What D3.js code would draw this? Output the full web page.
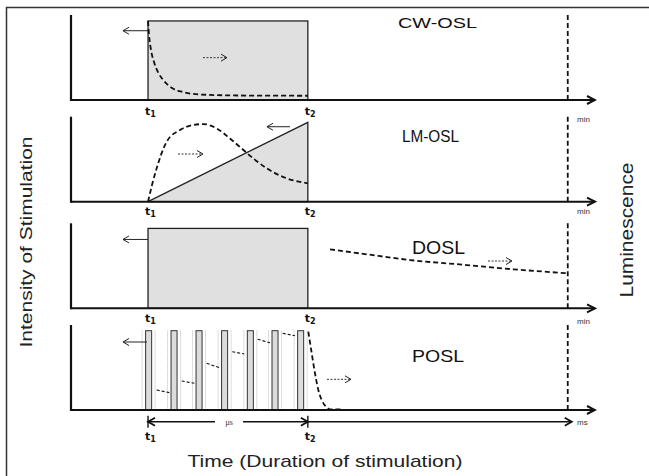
<!DOCTYPE html>
<html>
<head>
<meta charset="utf-8">
<script src="https://cdn.jsdelivr.net/npm/d3@7"></script>
<style>
  body { margin: 0; background: #fff; }
  svg { display: block; }
</style>
</head>
<body>
<svg id="chart"></svg>
<script>
// ---- data (time in arbitrary units, luminescence / intensity as fraction of full scale) ----
const panelNames = ['CW-OSL', 'LM-OSL', 'DOSL', 'POSL'];
const unitLabels = ['min', 'min', 'min', 'ms'];
const tStart = 14.7;   // t1
const tStop = 45.2;    // t2
const tEnd = 94.8;     // end of measurement (dashed line)
const stimLevel = [0.93, 0.934, 0.94, 0.933];

// CW-OSL decay
const cwCurve = [
    [14.7, 0.93], [14.89, 0.765], [15.27, 0.588], [15.84, 0.447], [16.6, 0.329],
    [17.75, 0.224], [19.27, 0.141], [21.37, 0.094], [24.62, 0.065], [32.25, 0.053], [45.2, 0.05]
];
// LM-OSL peak
const lmCurve = [
    [14.7, 0], [15.46, 0.196], [16.35, 0.393], [18.26, 0.706], [20.8, 0.844], [23.34, 0.902],
    [25.25, 0.913], [27.8, 0.862], [30.34, 0.744], [32.57, 0.626], [34.79, 0.509],
    [37.34, 0.393], [41.16, 0.275], [45.2, 0.216]
];
// DOSL delayed signal
const doslCurve = [
    [49.43, 0.694], [56.43, 0.635], [64.69, 0.568], [75.51, 0.509], [84.41, 0.459], [94.8, 0.412]
];
// POSL pulses (start times), pulse width
const pulseStarts = [14.24, 19.09, 23.86, 28.74, 33.65, 38.36, 43.25];
const pulseWidth = 1.15;
// POSL off-time luminescence segments [t0, l0, t1, l1]
const poslOffSegments = [
    [16.35, 0.235, 18.76, 0.204],
    [21.13, 0.341, 23.53, 0.314],
    [25.9, 0.549, 28.3, 0.498],
    [30.78, 0.686, 33.07, 0.659],
    [35.63, 0.832, 37.98, 0.792],
    [40.4, 0.902, 42.75, 0.874]
];
const poslTail = [
    [45.29, 0.921], [45.94, 0.667], [46.56, 0.432], [47.2, 0.235], [47.84, 0.118],
    [48.8, 0.032], [49.43, 0.008], [51.66, 0.008]
];
// stimulation arrows (solid, pointing left) [tFrom, tTo, level]
const stimArrows = [[14.7, 9.92, 0.815], [41.79, 37.4, 0.882], [14.7, 9.92, 0.81], [14.5, 9.92, 0.80]];
// luminescence arrows (dashed, pointing right) [tFrom, tTo, level]
const lumArrows = [[25.19, 29.77, 0.498], [20.42, 25.19, 0.561], [79.58, 84.16, 0.556], [48.85, 53.44, 0.361]];

// ---- layout ----
const width = 649, height = 476;
const baselines = [100, 201.7, 308.3, 410];
const panelH = 85;
const titlePos = [
    {x: 398, y: 28, size: 15, len: 79},
    {x: 402, y: 142, size: 16, len: 57},
    {x: 412, y: 254, size: 17.5, len: 53},
    {x: 412, y: 362, size: 17, len: 52}
];
const unitY = [122, 214, 324];
const tLabelY = [115, 215, 322];
const ink = '#111';
const fillGrey = '#e0e0e0';

const svg = d3.select('#chart')
    .attr('width', width)
    .attr('height', height);

const x = d3.scaleLinear().domain([0, 100]).range([71, 595]);

// markers
const defs = svg.append('defs');
defs.append('marker')
    .attr('id', 'axisArrow')
    .attr('markerUnits', 'userSpaceOnUse')
    .attr('markerWidth', 12).attr('markerHeight', 12)
    .attr('viewBox', '0 0 12 12')
    .attr('refX', 10).attr('refY', 6)
    .attr('orient', 'auto')
    .append('path')
    .attr('d', 'M2,2 L10,6 L2,10')
    .attr('fill', 'none')
    .attr('stroke', ink)
    .attr('stroke-width', 2);
defs.append('marker')
    .attr('id', 'thinArrow')
    .attr('markerUnits', 'userSpaceOnUse')
    .attr('markerWidth', 10).attr('markerHeight', 10)
    .attr('viewBox', '0 0 10 10')
    .attr('refX', 8).attr('refY', 5)
    .attr('orient', 'auto')
    .append('path')
    .attr('d', 'M2,1.5 L8,5 L2,8.5')
    .attr('fill', 'none')
    .attr('stroke', '#222')
    .attr('stroke-width', 1);
defs.append('marker')
    .attr('id', 'boldArrow')
    .attr('markerUnits', 'userSpaceOnUse')
    .attr('markerWidth', 12).attr('markerHeight', 12)
    .attr('viewBox', '0 0 12 12')
    .attr('refX', 10).attr('refY', 6)
    .attr('orient', 'auto')
    .append('path')
    .attr('d', 'M3,2 L10,6 L3,10')
    .attr('fill', 'none')
    .attr('stroke', ink)
    .attr('stroke-width', 1.8);

// frame
svg.append('path')
    .attr('d', `M6.5,${height} L6.5,7.5 L${width},7.5`)
    .attr('fill', 'none')
    .attr('stroke', '#333')
    .attr('stroke-width', 1.5);

panelNames.forEach((name, i) => {
    const base = baselines[i];
    const y = d3.scaleLinear().domain([0, 1]).range([base, base - panelH]);
    const g = svg.append('g').attr('class', 'panel');

    const line = d3.line()
        .x(d => x(d[0]))
        .y(d => y(d[1]))
        .curve(d3.curveMonotoneX);

    // stimulation shape
    if (i === 0 || i === 2) {
        g.append('rect')
            .attr('x', x(tStart))
            .attr('y', y(stimLevel[i]))
            .attr('width', x(tStop) - x(tStart))
            .attr('height', base - y(stimLevel[i]))
            .attr('fill', fillGrey)
            .attr('stroke', '#222')
            .attr('stroke-width', 1.3);
    } else if (i === 1) {
        g.append('path')
            .attr('d', `M${x(tStart)},${y(0)} L${x(tStop)},${y(stimLevel[i])} L${x(tStop)},${y(0)} Z`)
            .attr('fill', fillGrey)
            .attr('stroke', '#222')
            .attr('stroke-width', 1.3);
    } else {
        pulseStarts.forEach(p => {
            const x0 = x(p), x1 = x(p + pulseWidth);
            g.append('path')
                .attr('d', `M${x0 - 3.5},${y(stimLevel[i])} L${x0 - 3.5},${base} M${x1 + 3.5},${y(stimLevel[i])} L${x1 + 3.5},${base}`)
                .attr('stroke', '#aaa')
                .attr('stroke-width', 0.8)
                .attr('stroke-dasharray', '1,1');
            g.append('rect')
                .attr('x', x0)
                .attr('y', y(stimLevel[i]))
                .attr('width', x1 - x0)
                .attr('height', base - y(stimLevel[i]))
                .attr('fill', '#dcdcdc')
                .attr('stroke', '#333')
                .attr('stroke-width', 1);
        });
    }

    // luminescence curves
    const curves = i === 0 ? [cwCurve] : i === 1 ? [lmCurve] : i === 2 ? [doslCurve] : [poslTail];
    curves.forEach(c => {
        g.append('path')
            .attr('d', line(c))
            .attr('fill', 'none')
            .attr('stroke', ink)
            .attr('stroke-width', 1.8)
            .attr('stroke-dasharray', '5,3');
    });
    if (i === 3) {
        poslOffSegments.forEach(s => {
            g.append('line')
                .attr('x1', x(s[0])).attr('y1', y(s[1]))
                .attr('x2', x(s[2])).attr('y2', y(s[3]))
                .attr('stroke', ink)
                .attr('stroke-width', 1.1)
                .attr('stroke-dasharray', '3,2');
        });
    }

    // axes
    g.append('line')
        .attr('x1', x(0)).attr('y1', base - panelH)
        .attr('x2', x(0)).attr('y2', base + 1)
        .attr('stroke', ink)
        .attr('stroke-width', 2.2);
    g.append('line')
        .attr('x1', x(0)).attr('y1', base)
        .attr('x2', x(100)).attr('y2', base)
        .attr('stroke', ink)
        .attr('stroke-width', 2)
        .attr('marker-end', 'url(#axisArrow)');

    // end-of-measurement dashed line
    g.append('line')
        .attr('x1', x(tEnd)).attr('y1', base - panelH)
        .attr('x2', x(tEnd)).attr('y2', base)
        .attr('stroke', ink)
        .attr('stroke-width', 1.8)
        .attr('stroke-dasharray', '5,3');

    // arrows
    const sa = stimArrows[i];
    g.append('line')
        .attr('x1', x(sa[0])).attr('y1', y(sa[2]))
        .attr('x2', x(sa[1])).attr('y2', y(sa[2]))
        .attr('stroke', '#222')
        .attr('stroke-width', 1)
        .attr('marker-end', 'url(#thinArrow)');
    const la = lumArrows[i];
    g.append('line')
        .attr('x1', x(la[0])).attr('y1', y(la[2]))
        .attr('x2', x(la[1])).attr('y2', y(la[2]))
        .attr('stroke', '#333')
        .attr('stroke-width', 1)
        .attr('stroke-dasharray', '2,1.5')
        .attr('marker-end', 'url(#thinArrow)');

    // title
    const tp = titlePos[i];
    g.append('text')
        .text(name)
        .attr('x', tp.x)
        .attr('y', tp.y)
        .attr('textLength', tp.len)
        .attr('lengthAdjust', 'spacingAndGlyphs')
        .style('font-family', '"Liberation Sans", Arial, sans-serif')
        .style('font-size', tp.size + 'px')
        .style('fill', ink);

    // t1 / t2 labels and unit
    const ly = i < 3 ? tLabelY[i] : 440;
    [[tStart, '1'], [tStop, '2']].forEach(([t, sub]) => {
        const txt = g.append('text')
            .attr('x', x(t) - 3)
            .attr('y', ly)
            .style('font-family', '"DejaVu Sans", Verdana, sans-serif')
            .style('font-weight', 'bold')
            .style('font-size', '11px')
            .style('fill', ink);
        txt.append('tspan').text('t');
        txt.append('tspan').text(sub)
            .attr('dy', 2)
            .style('font-size', '8px');
    });

    if (i < 3) {
        g.append('text')
            .text(unitLabels[i])
            .attr('x', 577)
            .attr('y', unitY[i])
            .style('font-family', '"Liberation Sans", Arial, sans-serif')
            .style('font-size', '8px')
            .style('fill', '#333');
    } else {
        const ay = base + 11.7;
        // µs double arrow between t1 and t2
        g.append('line')
            .attr('x1', 215).attr('y1', ay)
            .attr('x2', x(tStart)).attr('y2', ay)
            .attr('stroke', ink).attr('stroke-width', 1.6)
            .attr('marker-end', 'url(#boldArrow)');
        g.append('line')
            .attr('x1', 243).attr('y1', ay)
            .attr('x2', x(tStop)).attr('y2', ay)
            .attr('stroke', ink).attr('stroke-width', 1.6)
            .attr('marker-end', 'url(#boldArrow)');
        g.append('line')
            .attr('x1', x(tStop)).attr('y1', ay)
            .attr('x2', x(tEnd) + 4).attr('y2', ay)
            .attr('stroke', ink).attr('stroke-width', 1.6)
            .attr('marker-end', 'url(#boldArrow)');
        [tStart, tStop].forEach(t => {
            g.append('line')
                .attr('x1', x(t)).attr('y1', ay - 6)
                .attr('x2', x(t)).attr('y2', ay + 6)
                .attr('stroke', ink).attr('stroke-width', 1.4);
        });
        g.append('text')
            .text('µs')
            .attr('x', 229)
            .attr('y', ay + 3)
            .attr('text-anchor', 'middle')
            .style('font-family', '"Liberation Serif", "Times New Roman", serif')
            .style('font-size', '8px')
            .style('fill', '#333');
        g.append('text')
            .text(unitLabels[i])
            .attr('x', 577)
            .attr('y', ay + 3)
            .style('font-family', '"Liberation Sans", Arial, sans-serif')
            .style('font-size', '8px')
            .style('fill', '#333');
    }
});

// axis titles
svg.append('text')
    .text('Time (Duration of stimulation)')
    .attr('x', 325)
    .attr('y', 467)
    .attr('text-anchor', 'middle')
    .attr('textLength', 275)
    .attr('lengthAdjust', 'spacingAndGlyphs')
    .style('font-family', '"Liberation Sans", Arial, sans-serif')
    .style('font-size', '17px')
    .style('fill', '#222');

svg.append('text')
    .text('Intensity of Stimulation')
    .attr('transform', 'translate(32,242) rotate(-90)')
    .attr('text-anchor', 'middle')
    .attr('textLength', 211)
    .attr('lengthAdjust', 'spacingAndGlyphs')
    .style('font-family', '"Liberation Sans", Arial, sans-serif')
    .style('font-size', '17px')
    .style('fill', '#222');

svg.append('text')
    .text('Luminescence')
    .attr('transform', 'translate(633,230) rotate(-90)')
    .attr('text-anchor', 'middle')
    .attr('textLength', 135)
    .attr('lengthAdjust', 'spacingAndGlyphs')
    .style('font-family', '"Liberation Sans", Arial, sans-serif')
    .style('font-size', '18px')
    .style('fill', '#222');
</script>
</body>
</html>
